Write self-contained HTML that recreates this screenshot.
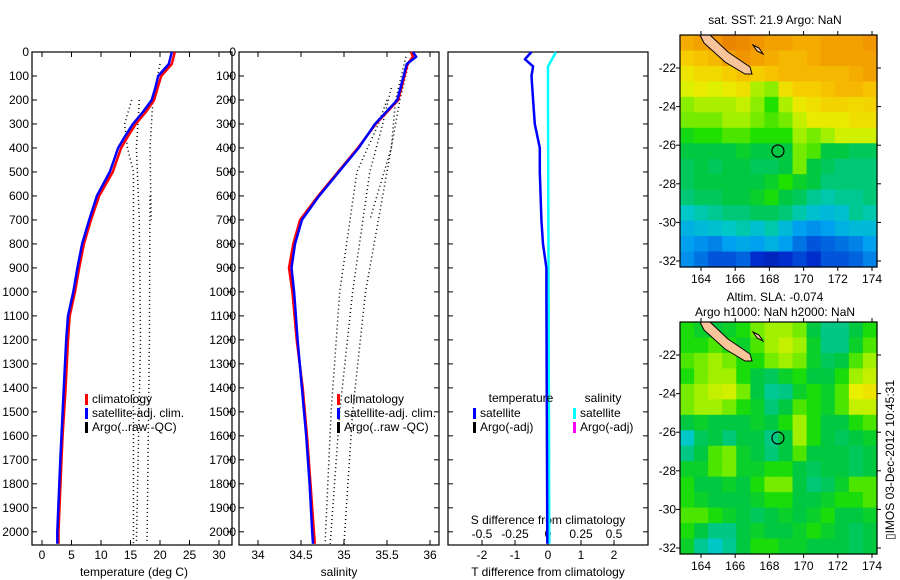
<!DOCTYPE html>
<html><head><meta charset="utf-8">
<style>
html,body{margin:0;padding:0;background:#fff;}
svg{display:block;font-family:"Liberation Sans",sans-serif;}
text{font-size:12px;fill:#000;}
</style></head>
<body>
<svg id="fig" width="900" height="580" viewBox="0 0 900 580" xmlns="http://www.w3.org/2000/svg">
<g id="g-p1"></g>
<g id="g-p2"></g>
<g id="g-p3"></g>
<g id="g-m1"></g>
<g id="g-m2"></g>
<text x="775" y="24" text-anchor="middle">sat. SST: 21.9 Argo: NaN</text>
<text x="775" y="301" text-anchor="middle">Altim. SLA: -0.074</text>
<text x="775" y="316" text-anchor="middle">Argo h1000: NaN h2000: NaN</text>
<text transform="translate(894,460) rotate(-90)" text-anchor="middle">▯IMOS 03-Dec-2012 10:45:31</text>
</svg>
<script>
// ---- data ----
const depthTicks = [0,100,200,300,400,500,600,700,800,900,1000,1100,1200,1300,1400,1500,1600,1700,1800,1900,2000];
const tempTicks = [0,5,10,15,20,25,30];
const salTicks = [34,34.5,35,35.5,36];
const tdiffTicks = [-2,-1,0,1,2];
const sdiffTicks = [-0.5,-0.25,0,0.25,0.5];
const sdiffTickLabels = ["-0.5","-0.25","0","0.25","0.5"];
const tDepths = [0,50,100,150,200,250,300,350,400,450,500,600,700,800,900,1000,1100,1200,1400,1600,1700,2000,2050];
const tClim = [22.5,22,20.2,19.6,19,17.6,15.9,14.6,13.4,12.7,12,9.7,8.3,7.1,6.3,5.6,4.7,4.4,4.0,3.5,3.3,2.8,2.8];
const tSat  = [22,21.5,19.7,19.2,18.6,17.1,15.4,14.1,12.9,12.2,11.5,9.3,8.0,6.8,6.0,5.3,4.4,4.1,3.7,3.3,3.1,2.6,2.6];
const argoT1 = [[200,15.2],[300,14],[400,14.5],[500,15.5],[1000,15.5],[2050,15.5]];
const argoT2 = [[200,16.5],[400,16],[700,16.5],[1200,16.7],[2050,16]];
const argoT3 = [[50,20],[200,18.8],[400,18.3],[700,18.5]];
const argoT4 = [[600,18.3],[1200,18.2],[2050,17.8]];
const sDepths = [0,20,50,200,300,400,500,600,700,800,900,1000,1200,1400,1600,1800,2000,2050];
const sClim = [35.78,35.8,35.74,35.63,35.37,35.16,34.93,34.70,34.49,34.41,34.36,34.40,34.45,34.52,34.57,34.61,34.65,34.66];
const sSat  = [35.8,35.84,35.73,35.62,35.36,35.17,34.94,34.71,34.51,34.43,34.39,34.42,34.46,34.51,34.56,34.60,34.63,34.64];
const argoS1 = [[200,35.5],[300,35.4],[500,35.15],[1000,34.95],[1500,34.85],[2050,34.78]];
const argoS2 = [[150,35.55],[300,35.45],[500,35.3],[1000,35.1],[1500,34.95],[2050,34.84]];
const argoS3 = [[50,35.75],[200,35.65],[500,35.5],[700,35.4],[1000,35.25],[1500,35.1],[2050,35.0]];
const argoS4 = [[20,35.72],[200,35.6],[400,35.55],[700,35.3]];
const tDiff = [[0,-0.5],[30,-0.7],[60,-0.45],[100,-0.5],[200,-0.45],[300,-0.4],[400,-0.25],[500,-0.25],[700,-0.2],[800,-0.15],[900,-0.05],[1000,-0.05],[2050,-0.02]];
const sDiff = [[0,0.06],[20,0.04],[60,0.0],[200,0.0],[2050,0.01]];
const lonTicks = [164,166,168,170,172,174];
const latTicks = [-22,-24,-26,-28,-30,-32];
const sstGrid = [
[.8,.82,.84,.87,.86,.84,.82,.82,.8,.8,.82,.82,.82,.84],
[.74,.76,.78,.82,.84,.82,.8,.78,.78,.8,.82,.82,.82,.82],
[.7,.72,.72,.74,.76,.74,.76,.78,.78,.78,.78,.78,.8,.82],
[.67,.69,.67,.69,.71,.63,.61,.71,.74,.74,.76,.78,.78,.76],
[.61,.63,.63,.63,.65,.61,.56,.63,.69,.71,.73,.73,.72,.73],
[.6,.6,.6,.62,.62,.6,.58,.6,.65,.69,.69,.69,.71,.71],
[.54,.56,.56,.58,.58,.56,.56,.56,.62,.6,.62,.66,.66,.66],
[.5,.5,.5,.5,.52,.5,.5,.5,.6,.58,.5,.5,.48,.48],
[.48,.5,.48,.5,.5,.48,.48,.5,.6,.5,.48,.46,.46,.46],
[.48,.5,.5,.5,.5,.5,.52,.56,.52,.5,.46,.46,.46,.46],
[.46,.48,.48,.5,.5,.52,.55,.5,.48,.44,.42,.44,.44,.46],
[.4,.42,.44,.46,.46,.48,.48,.46,.42,.38,.36,.38,.44,.42],
[.34,.36,.38,.4,.42,.38,.42,.36,.3,.28,.3,.34,.36,.36],
[.3,.28,.26,.3,.32,.3,.34,.3,.24,.2,.22,.24,.26,.3],
[.28,.24,.2,.2,.22,.14,.12,.14,.18,.14,.2,.2,.22,.26]];
const slaGrid = [
[.55,.52,.5,.52,.55,.6,.62,.62,.6,.5,.45,.45,.5,.55],
[.55,.55,.58,.55,.52,.58,.62,.65,.62,.52,.45,.45,.52,.58],
[.58,.6,.62,.6,.55,.55,.6,.62,.6,.52,.48,.5,.58,.62],
[.55,.6,.62,.62,.55,.5,.48,.52,.55,.5,.5,.55,.62,.65],
[.6,.62,.65,.66,.6,.5,.44,.45,.52,.55,.52,.58,.68,.7],
[.6,.62,.62,.6,.55,.52,.46,.5,.58,.55,.52,.58,.65,.65],
[.5,.52,.5,.5,.5,.52,.5,.55,.62,.55,.5,.5,.55,.58],
[.4,.48,.5,.46,.5,.5,.45,.5,.62,.55,.5,.48,.5,.52],
[.45,.5,.58,.6,.52,.5,.46,.5,.58,.5,.5,.5,.48,.5],
[.52,.52,.58,.6,.52,.52,.55,.55,.5,.48,.5,.5,.48,.5],
[.55,.5,.5,.52,.5,.55,.6,.6,.5,.46,.48,.52,.58,.58],
[.55,.52,.5,.5,.5,.52,.55,.55,.5,.5,.52,.55,.55,.58],
[.58,.58,.55,.52,.5,.48,.5,.52,.5,.52,.55,.5,.5,.52],
[.55,.5,.45,.45,.5,.52,.5,.5,.52,.55,.52,.5,.48,.5],
[.52,.44,.4,.44,.5,.55,.55,.52,.52,.5,.5,.5,.48,.5]];
const argoLon = 168.5, argoLat = -26.3;

// ---- helpers ----
const NS="http://www.w3.org/2000/svg";
function mk(tag, attrs, parent){const e=document.createElementNS(NS,tag);for(const k in attrs)e.setAttribute(k,attrs[k]);parent.appendChild(e);return e;}
const TOP=52, BOT=545;
const yD = d => TOP + d*0.2399;
function linScale(v0,p0,v1,p1){return v=>p0+(v-v0)*(p1-p0)/(v1-v0);}

function panel(g,L,R,name,showLabels){
  const box=mk('rect',{x:L,y:TOP,width:R-L,height:BOT-TOP,fill:'none',stroke:'#000','stroke-width':1.2},g);
  
  
  depthTicks.forEach(d=>{
    const y=yD(d);
    mk('line',{x1:L,x2:L+5,y1:y,y2:y,stroke:'#000'},g);
    mk('line',{x1:R,x2:R-5,y1:y,y2:y,stroke:'#000'},g);
    if(showLabels){
      const t=mk('text',{x:L-3,y:y+4,'text-anchor':'end'},g); t.textContent=d;
      
      
    }
  });
}
function xTicks(g,ticks,labels,sx,ly,top){
  ticks.forEach((v,i)=>{
    const x=sx(v);
    if(top){mk('line',{x1:x,x2:x,y1:TOP,y2:TOP+5,stroke:'#000'},g);}
    mk('line',{x1:x,x2:x,y1:BOT,y2:BOT-5,stroke:'#000'},g);
    const t=mk('text',{x:x,y:ly,'text-anchor':'middle'},g); t.textContent=labels?labels[i]:v;
    
    
  });
}
function line(g,pts,sx,color,w,dash,name){
  const p=mk('polyline',{points:pts.map(q=>sx(q[1]).toFixed(1)+','+yD(q[0]).toFixed(1)).join(' '),fill:'none',stroke:color,'stroke-width':w,'stroke-linejoin':'round'},g);
  if(dash)p.setAttribute('stroke-dasharray',dash);
  
  
}
function zip(a,b){return a.map((v,i)=>[v,b[i]]);}
function legend(g,x,y,items){
  items.forEach((it,i)=>{
    const yy=y+i*14;
    if(it.c) mk('rect',{x:x,y:yy-9,width:3,height:11,fill:it.c},g);
    const t=mk('text',{x:x+(it.c?7:0),y:yy},g); t.textContent=it.t;
    
    
  });
}
function label(g,x,y,s,name){const t=mk('text',{x:x,y:y,'text-anchor':'middle'},g);t.textContent=s;
  
  }

// ---- panel 1 ----
const g1=document.getElementById('g-p1');
const sxT=linScale(0,42,30,219);
panel(g1,32,232,'temperature',true);
xTicks(g1,tempTicks,null,sxT,559,true);
[argoT1,argoT2,argoT3,argoT4].forEach(a=>line(g1,a,sxT,'#000',1.5,'1 3','argo-temperature-profile'));
line(g1,zip(tDepths,tClim),sxT,'#f00',2.5,null,'climatology-temperature-line');
line(g1,zip(tDepths,tSat),sxT,'#00f',2.5,null,'satellite-temperature-line');
legend(g1,85,403,[{c:'#f00',t:'climatology'},{c:'#00f',t:'satellite-adj. clim.'},{c:'#000',t:'Argo(..raw -QC)'}]);
label(g1,134,576,'temperature (deg C)','temperature-axis-title');

// ---- panel 2 ----
const g2=document.getElementById('g-p2');
const sxS=linScale(34,258,36,430);
panel(g2,239,439,'salinity',true);
xTicks(g2,salTicks,null,sxS,559,true);
[argoS1,argoS2,argoS3,argoS4].forEach(a=>line(g2,a,sxS,'#000',1.5,'1 3','argo-salinity-profile'));
line(g2,zip(sDepths,sClim),sxS,'#f00',2.5,null,'climatology-salinity-line');
line(g2,zip(sDepths,sSat),sxS,'#00f',2.5,null,'satellite-salinity-line');
legend(g2,337,403,[{c:'#f00',t:'climatology'},{c:'#00f',t:'satellite-adj. clim.'},{c:'#000',t:'Argo(..raw -QC)'}]);
label(g2,339,576,'salinity','salinity-axis-title');

// ---- panel 3 ----
const g3=document.getElementById('g-p3');
const sxD=linScale(-2,482,2,614);
const sxSD=linScale(-0.5,482,0.5,614);
panel(g3,448,648,'difference',false);
xTicks(g3,tdiffTicks,null,sxD,559,false);
sdiffTicks.forEach((v,i)=>{const t=mk('text',{x:sxSD(v),y:538,'text-anchor':'middle'},g3);t.textContent=sdiffTickLabels[i];
  
  });
label(g3,548,524,'S difference from climatology','s-diff-axis-title');
label(g3,548,576,'T difference from climatology','t-diff-axis-title');
line(g3,sDiff,sxSD,'#0ff',2.5,null,'salinity-difference-line');
line(g3,tDiff,sxD,'#00f',2.5,null,'temperature-difference-line');
legend(g3,473,403,[{c:null,t:''},{c:'#00f',t:'satellite'},{c:'#000',t:'Argo(-adj)'}]);
legend(g3,573,403,[{c:null,t:''},{c:'#0ff',t:'satellite'},{c:'#f0f',t:'Argo(-adj)'}]);
label(g3,521,402,'temperature','temperature-legend-header');
label(g3,603,402,'salinity','salinity-legend-header');

// ---- maps ----
const stops=[[0,[0,0,128]],[.15,[0,48,208]],[.3,[0,160,240]],[.4,[0,200,200]],[.5,[0,200,64]],[.56,[32,224,0]],[.62,[160,240,0]],[.68,[232,240,0]],[.75,[248,200,0]],[.85,[240,144,0]],[1,[192,64,0]]];
function cmap(v){for(let i=1;i<stops.length;i++){if(v<=stops[i][0]){const a=stops[i-1],b=stops[i],f=(v-a[0])/(b[0]-a[0]);return 'rgb('+a[1].map((c,k)=>Math.round(c+(b[1][k]-c)*f)).join(',')+')';}}return 'rgb(192,64,0)';}
function map(gid,grid,y0,name){
  const g=document.getElementById(gid);
  const L=680,R=877,T=y0,B=y0+232;
  const sx=linScale(164,701,174,872), sy=linScale(-22,y0+33,-32,y0+226);
  const rows=grid.length, cols=grid[0].length;
  const cw=(R-L)/cols, ch=(B-T)/rows;
  grid.forEach((row,r)=>row.forEach((v,c)=>{
    const cell=mk('rect',{x:(L+c*cw).toFixed(2),y:(T+r*ch).toFixed(2),width:(cw+0.6).toFixed(2),height:(ch+0.6).toFixed(2),fill:cmap(v)},g);
    
    
  }));
  const isl=mk('polygon',{points:[[700,T],[710,T],[728,T+17],[750,T+32],[752,T+39],[745,T+39],[725,T+27],[704,T+8]].map(p=>p.join(',')).join(' '),fill:'#f8c49a',stroke:'#000','stroke-width':1},g);
  
  
  mk('polygon',{points:`753,${T+10} 759,${T+13} 763,${T+19} 757,${T+16}`,fill:'#f8c49a',stroke:'#000','stroke-width':1},g);
  const c=mk('circle',{cx:sx(argoLon),cy:sy(argoLat),r:6,fill:'none',stroke:'#000','stroke-width':1.2},g);
  
  
  const fr=mk('rect',{x:L,y:T,width:R-L,height:B-T,fill:'none',stroke:'#000','stroke-width':1.2},g);
  
  
  lonTicks.forEach(v=>{const x=sx(v);mk('line',{x1:x,x2:x,y1:B,y2:B+4,stroke:'#000'},g);mk('line',{x1:x,x2:x,y1:T,y2:T-4,stroke:'#000'},g);
    const t=mk('text',{x:x,y:B+16,'text-anchor':'middle'},g);t.textContent=v;
    
    });
  latTicks.forEach(v=>{const y=sy(v);mk('line',{x1:L,x2:L-4,y1:y,y2:y,stroke:'#000'},g);mk('line',{x1:R,x2:R+4,y1:y,y2:y,stroke:'#000'},g);
    const t=mk('text',{x:L-4,y:y+4,'text-anchor':'end'},g);t.textContent=v;
    
    });
}
map('g-m1',sstGrid,35,'sst-map');
map('g-m2',slaGrid,322,'sla-map');
</script>
</body></html>
